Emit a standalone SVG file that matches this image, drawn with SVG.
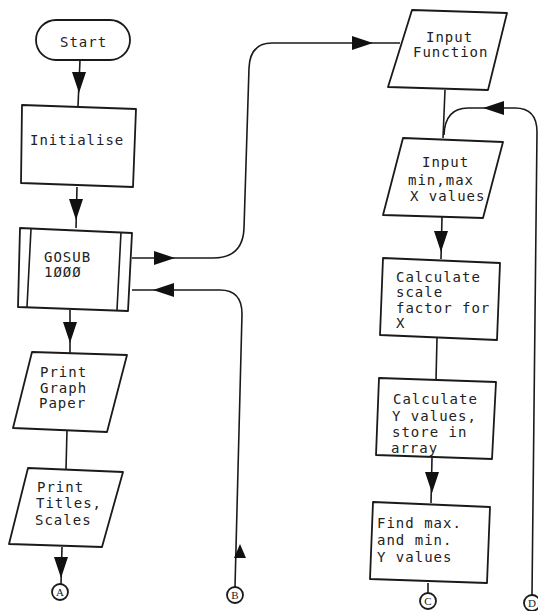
<svg xmlns="http://www.w3.org/2000/svg" width="538" height="611" viewBox="0 0 538 611">
<style>
.n{fill:#fff;stroke:#1a1a1a;stroke-width:1.8;stroke-linejoin:round}
.c{fill:none;stroke:#1a1a1a;stroke-width:1.6}
.t{font-family:"DejaVu Sans Mono","Liberation Mono",monospace;font-size:14px;letter-spacing:1px;fill:#222}
.l{font-family:"Liberation Serif",serif;font-size:11px;fill:#222;text-anchor:middle}
.ah{fill:#111}
</style>
<defs>
<path id="ah" d="M0,0 L-7,-21 L7,-21 Z"/>
<path id="ahs" d="M0,0 L-6,-14 L6,-14 Z"/>
</defs>
<rect width="538" height="611" fill="#fff"/>
<g id="connectors">
<path class="c" d="M80,60 L78,106"/>
<path class="c" d="M77,187 L76,228"/>
<path class="c" d="M70,310 L70,353"/>
<path class="c" d="M67,430 L66,469"/>
<path class="c" d="M62,547 L61,584"/>
<path class="c" d="M132,258 L213,258 Q243,258 244,228 L249,68 Q250,43 272,43 L400,43"/>
<path class="c" d="M235,587 L242,314 Q242,290 220,290 L132,290"/>
<path class="c" d="M445,90 L443,138"/>
<path class="c" d="M532,595 L537,132 Q537,108 515,108 L468,108 Q445,108 444,135"/>
<path class="c" d="M442,217 L441,259"/>
<path class="c" d="M437,338 L436,380"/>
<path class="c" d="M432,458 L431,503"/>
<path class="c" d="M428,583 L428,594"/>
<use href="#ah" class="ah" transform="translate(79,93)"/>
<use href="#ah" class="ah" transform="translate(76,220)"/>
<use href="#ah" class="ah" transform="translate(70,343)"/>
<use href="#ah" class="ah" transform="translate(61,578)"/>
<use href="#ah" class="ah" transform="translate(175,258) rotate(-90)"/>
<use href="#ah" class="ah" transform="translate(373,43) rotate(-90)"/>
<use href="#ahs" class="ah" transform="translate(240,544) rotate(180)"/>
<use href="#ah" class="ah" transform="translate(153,290) rotate(90)"/>
<use href="#ah" class="ah" transform="translate(483,108) rotate(90)"/>
<use href="#ah" class="ah" transform="translate(441,252)"/>
<use href="#ah" class="ah" transform="translate(432,493)"/>
</g>
<g id="start">
<rect class="n" x="36" y="20" width="94" height="40" rx="20"/>
<text class="t" x="60" y="47">Start</text>
</g>
<g id="initialise">
<polygon class="n" points="22,105 136,109 133,187 21,183"/>
<text class="t" x="30" y="145">Initialise</text>
</g>
<g id="gosub">
<polygon class="n" points="20,228 132,233 128,311 18,307"/>
<path class="c" d="M31,229 L27,307 M121,232 L117,310"/>
<text class="t" x="44" y="262">GOSUB</text>
<text class="t" x="44" y="277">1ØØØ</text>
</g>
<g id="print-graph">
<polygon class="n" points="32,352 127,355 107,432 13,428"/>
<text class="t" x="40" y="377">Print</text>
<text class="t" x="40" y="393">Graph</text>
<text class="t" x="39" y="408">Paper</text>
</g>
<g id="print-titles">
<polygon class="n" points="28,468 123,472 102,547 9,544"/>
<text class="t" x="37" y="492">Print</text>
<text class="t" x="36" y="508">Titles,</text>
<text class="t" x="35" y="525">Scales</text>
</g>
<g id="input-function">
<polygon class="n" points="412,10 507,13 488,90 388,87"/>
<text class="t" x="426" y="42">Input</text>
<text class="t" x="413" y="57">Function</text>
</g>
<g id="input-minmax">
<polygon class="n" points="403,138 503,142 483,218 383,215"/>
<text class="t" x="422" y="167">Input</text>
<text class="t" x="408" y="185">min,max</text>
<text class="t" x="410" y="201">X values</text>
</g>
<g id="calc-scale">
<polygon class="n" points="383,258 500,263 497,340 380,335"/>
<text class="t" x="396" y="282">Calculate</text>
<text class="t" x="396" y="297">scale</text>
<text class="t" x="396" y="313">factor for</text>
<text class="t" x="396" y="328">X</text>
</g>
<g id="calc-y">
<polygon class="n" points="379,378 496,382 492,459 376,455"/>
<text class="t" x="393" y="404">Calculate</text>
<text class="t" x="392" y="421">Y values,</text>
<text class="t" x="392" y="437">store in</text>
<text class="t" x="391" y="453">array</text>
</g>
<g id="find-maxmin">
<polygon class="n" points="373,502 490,507 487,583 370,579"/>
<text class="t" x="377" y="528">Find max.</text>
<text class="t" x="377" y="545">and min.</text>
<text class="t" x="377" y="562">Y values</text>
</g>
<g id="conn-a">
<circle class="n" cx="60" cy="592" r="8"/>
<text class="l" x="60" y="596">A</text>
</g>
<g id="conn-b">
<circle class="n" cx="235" cy="595" r="8"/>
<text class="l" x="235" y="599">B</text>
</g>
<g id="conn-c">
<circle class="n" cx="428" cy="601" r="8"/>
<text class="l" x="428" y="605">C</text>
</g>
<g id="conn-d">
<circle class="n" cx="532" cy="603" r="8"/>
<text class="l" x="532" y="607">D</text>
</g>
</svg>
